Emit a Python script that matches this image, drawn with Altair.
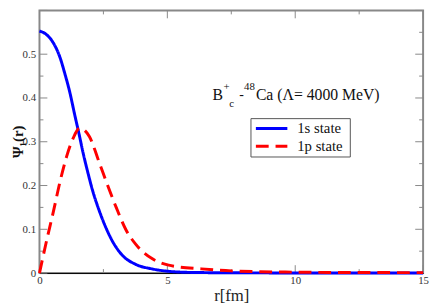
import altair as alt
import pandas as pd

# 1s state
r_1s = [0, 0.29, 0.55, 0.8, 0.99, 1.19, 1.38, 1.55, 1.70, 1.89, 2.08, 2.34, 2.72, 2.87, 3.25, 3.76, 4.4, 5.05, 5.6, 6.5, 8, 10, 12.5, 15]
psi_1s = [0.553, 0.544, 0.525, 0.493, 0.456, 0.412, 0.361, 0.317, 0.276, 0.230, 0.188, 0.142, 0.088, 0.071, 0.040, 0.020, 0.0095, 0.004, 0.002, 0.001, 0.0005, 0.0003, 0.0002, 0.0001]
# 1p state
r_1p = [0, 0.29, 0.55, 0.8, 1.06, 1.31, 1.57, 1.95, 2.34, 2.66, 3.0, 3.38, 3.76, 4.4, 5.05, 6.33, 7.5, 10, 12.5, 15]
psi_1p = [0.0, 0.077, 0.142, 0.208, 0.266, 0.307, 0.331, 0.312, 0.252, 0.201, 0.150, 0.099, 0.066, 0.033, 0.018, 0.0095, 0.005, 0.002, 0.0012, 0.001]

states = ["1s state", "1p state"]
colors = ["#0000ff", "#ff0000"]
dashes = [[1, 0], [13, 7]]

x_major = [0, 5, 10, 15]
x_minor = [2.5, 7.5, 12.5]
y_labels = [0, 0.1, 0.2, 0.3, 0.4, 0.5]
y_major = [0, 0.1, 0.2, 0.3, 0.4, 0.5, 0.6]
y_minor = [0.05, 0.15, 0.25, 0.35, 0.45, 0.55]

W, H = 390, 267
FONT = "Liberation Serif"
FRAME = "#888888"

df = pd.concat([
    pd.DataFrame({"r": r_1s, "psi": psi_1s, "state": states[0], "o": range(len(r_1s))}),
    pd.DataFrame({"r": r_1p, "psi": psi_1p, "state": states[1], "o": range(len(r_1p))}),
])

xs = alt.Scale(domain=[0, 15], nice=False, zero=False)
ys = alt.Scale(domain=[0, 0.6], nice=False)

lines = alt.Chart(df).mark_line(strokeWidth=3, interpolate="monotone").encode(
    x=alt.X("r:Q", scale=xs,
            axis=alt.Axis(values=x_major, title="r[fm]", ticks=False, domainColor="black",
                          domainWidth=1, labelFont=FONT, labelFontSize=11, labelColor="#333",
                          labelPadding=2, titleFont=FONT, titleFontSize=17, titleFontWeight="normal",
                          titleColor="#222", titlePadding=2, grid=False, labelFlush=False)),
    y=alt.Y("psi:Q", scale=ys,
            axis=alt.Axis(values=y_labels, title=None, ticks=False, domain=False,
                          labelFont=FONT, labelFontSize=11, labelColor="#333", labelPadding=4,
                          grid=False, format="~g", labelFlush=False)),
    color=alt.Color("state:N", scale=alt.Scale(domain=states, range=colors), legend=None),
    strokeDash=alt.StrokeDash("state:N", scale=alt.Scale(domain=states, range=dashes), legend=None),
    order="o:Q",
)

tick_layers = []
for vals, ln in ((x_major, 8), (x_minor, 4)):
    base = alt.Chart(pd.DataFrame({"x": vals})).mark_rule(color=FRAME, strokeWidth=1)
    tick_layers.append(base.encode(x=alt.X("x:Q", scale=xs), y=alt.value(H), y2=alt.value(H - ln)))
    tick_layers.append(base.encode(x=alt.X("x:Q", scale=xs), y=alt.value(0), y2=alt.value(ln)))
for vals, ln in ((y_major, 8), (y_minor, 4)):
    base = alt.Chart(pd.DataFrame({"y": vals})).mark_rule(color=FRAME, strokeWidth=1)
    tick_layers.append(base.encode(y=alt.Y("y:Q", scale=ys), x=alt.value(0), x2=alt.value(ln)))
    tick_layers.append(base.encode(y=alt.Y("y:Q", scale=ys), x=alt.value(W), x2=alt.value(W - ln)))

def txt(s, x, y, size, angle=0, weight="normal", align="left", baseline="alphabetic"):
    return alt.Chart(pd.DataFrame({"a": [0]})).mark_text(
        font=FONT, fontSize=size, align=align, baseline=baseline, color="#111",
        angle=angle, fontWeight=weight
    ).encode(x=alt.value(x), y=alt.value(y), text=alt.value(s))

label = [
    txt("B", 176, 91, 16),
    txt("+", 187, 81, 11),
    txt("c", 193, 98, 11),
    txt("-", 203, 90, 14),
    txt("48", 208, 81, 11),
    txt("Ca (Λ= 4000 MeV)", 220, 91, 16),
    txt("Ψ₁(r)", -22, H / 2, 15, angle=270, weight="bold", align="center", baseline="middle"),
]

# legend box
leg_box = alt.Chart(pd.DataFrame({"a": [0]})).mark_rect(
    fill="white", stroke="#555", strokeWidth=1
).encode(x=alt.value(215), x2=alt.value(316), y=alt.value(110), y2=alt.value(149))
leg_items = []
for i, (s, c, d) in enumerate(zip(states, colors, dashes)):
    yy = 120 + 18 * i
    leg_items.append(
        alt.Chart(pd.DataFrame({"a": [0]})).mark_rule(color=c, strokeWidth=3, strokeDash=d)
        .encode(x=alt.value(220), x2=alt.value(252), y=alt.value(yy))
    )
    leg_items.append(txt(s, 262, yy + 5, 15))

chart = alt.layer(*tick_layers, lines, *label, leg_box, *leg_items).properties(
    width=W, height=H,
    autosize=alt.AutoSizeParams(type="none"),
    padding={"left": 32, "top": 0, "right": 6, "bottom": 30},
).configure(background="white").configure_view(stroke=FRAME, strokeWidth=2)

chart.save("out.html", embed_options={"renderer": "svg", "actions": False})
